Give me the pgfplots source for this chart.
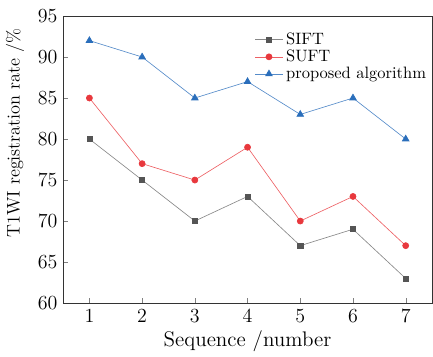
\documentclass[border=0pt]{standalone}
\usepackage{pgfplots}
\pgfplotsset{compat=1.18}
\definecolor{sgray}{HTML}{555555}
\definecolor{sred}{HTML}{E8383D}
\definecolor{sblue}{HTML}{2A6EBB}
\begin{document}
\begin{tikzpicture}
\begin{axis}[
  scale only axis,
  width=230.6pt, height=179.4pt,
  xmin=0.5, xmax=7.5, ymin=60, ymax=95,
  xtick={1,...,7}, ytick={60,65,...,95},
  tick align=inside, xtick pos=bottom, ytick pos=left,
  major tick length=3pt,
  /pgf/number format/assume math mode=true,
  tick label style={font=\fontsize{12.5}{15}\selectfont},
  xlabel={Sequence /number}, ylabel={T1WI registration rate /\%},
  xlabel style={font=\fontsize{13.2}{15}\selectfont, at={(axis description cs:0.5,-0.132)}, anchor=center},
  ylabel style={font=\fontsize{11.4}{14}\selectfont, at={(axis description cs:-0.130,0.592)}, anchor=center},
  axis line style={black!80, line width=0.6pt},
  legend style={draw=none, fill=none, at={(0.515,0.96)}, anchor=north west,
    font=\fontsize{10.3}{12}\selectfont, row sep=-2pt, inner sep=1pt},
  legend cell align=left,
  every axis plot/.append style={line width=0.4pt},
]
\addplot[color=sgray!70, mark=square*, mark options={fill=sgray, draw=sgray}, mark size=1.6pt] coordinates {(1,80)(2,75)(3,70)(4,73)(5,67)(6,69)(7,63)};
\addlegendentry{SIFT}
\addplot[color=sred!80, mark=*, mark options={fill=sred, draw=sred}, mark size=1.9pt] coordinates {(1,85)(2,77)(3,75)(4,79)(5,70)(6,73)(7,67)};
\addlegendentry{SUFT}
\addplot[color=sblue!80, mark=triangle*, mark options={fill=sblue, draw=sblue}, mark size=2.4pt] coordinates {(1,92)(2,90)(3,85)(4,87)(5,83)(6,85)(7,80)};
\addlegendentry{proposed algorithm}
\end{axis}
\path ([xshift=-39.4pt, yshift=-31.9pt]current axis.south west) rectangle ([xshift=0.6pt, yshift=10pt]current axis.north east);
\end{tikzpicture}
\end{document}
